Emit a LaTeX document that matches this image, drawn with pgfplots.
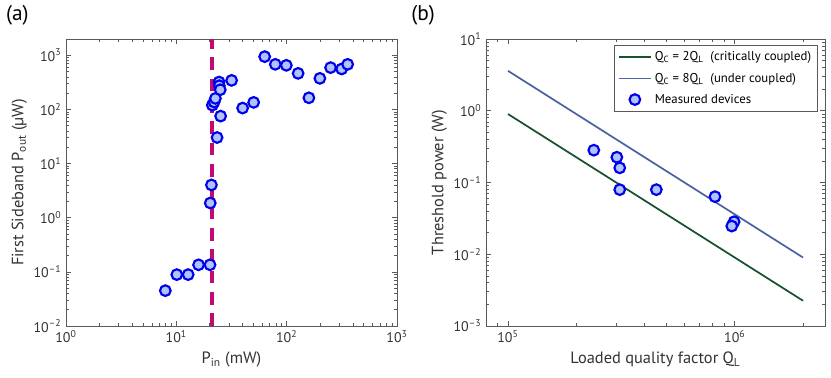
\documentclass[border=0pt]{standalone}
\usepackage{pgfplots}
\pgfplotsset{compat=1.18}
\usepackage{fontspec}
\setmainfont{PT Sans}
\definecolor{mk}{RGB}{0,0,235}
\definecolor{mkfill}{RGB}{175,195,255}
\definecolor{dashc}{RGB}{195,10,115}
\definecolor{gline}{RGB}{25,80,45}
\definecolor{bline}{RGB}{75,100,160}
\definecolor{axc}{RGB}{90,90,90}
\pgfplotsset{
  lineleg/.style={legend image code/.code={\draw[##1, line width=1.4pt] (0cm,0cm) -- (0.85cm,0cm);}},
  markleg/.style={legend image code/.code={\draw[mark options={draw=mk, fill=mkfill, line width=1.6pt}] plot[mark=*, mark size=4pt] coordinates {(0.42cm,0cm)};}},
}
\begin{document}
\begin{tikzpicture}[x=1pt,y=1pt]
\path[use as bounding box] (0,0) rectangle (623.25,283.5);
\pgfplotsset{
  every axis/.append style={
    scale only axis, xmode=log, ymode=log,
    tick align=inside, axis line style={axc, line width=0.6pt},
    every tick/.style={axc, line width=0.5pt},
    major tick length=4pt, minor tick length=2pt,
    font=\fontsize{10.5}{12}\selectfont,
    tick label style={font=\fontsize{10.5}{12}\selectfont, text=black!80},
    label style={font=\fontsize{12.3}{14}\selectfont, text=black!80},
  },
  meas/.style={only marks, mark=*, mark size=4pt,
    mark options={draw=mk, fill=mkfill, line width=1.6pt}},
}
\begin{axis}[at={(49.5pt,39pt)}, anchor=south west, width=248.25pt, height=215.25pt,
  xmin=1, xmax=1000, ymin=0.01, ymax=2000,
  xtick={1,10,100,1000},
  xticklabels={10\textsuperscript{0},10\textsuperscript{1},10\textsuperscript{2},10\textsuperscript{3}},
  minor xtick={2,3,4,5,6,7,8,9,20,30,40,50,60,70,80,90,200,300,400,500,600,700,800,900},
  ytick={0.01,0.1,1,10,100,1000},
  yticklabels={10\textsuperscript{\textendash2},10\textsuperscript{\textendash1},10\textsuperscript{0},10\textsuperscript{1},10\textsuperscript{2},10\textsuperscript{3}},
  minor ytick={0.02,0.03,0.04,0.05,0.06,0.07,0.08,0.09,0.2,0.3,0.4,0.5,0.6,0.7,0.8,0.9,2,3,4,5,6,7,8,9,20,30,40,50,60,70,80,90,200,300,400,500,600,700,800,900,2000},
  xlabel={P\textsubscript{in} (mW)},
  ylabel={First Sideband P\textsubscript{out} (µW)},
  ylabel style={yshift=-2pt},
]
\addplot[meas] coordinates {
(7.95,0.045) (10.1,0.089) (12.8,0.089) (15.9,0.135) (20.2,0.135)
(20.3,1.87) (20.8,4.03) (23.4,30.3) (25.2,75.3)
(21.2,120) (22.0,137) (22.6,160)
(24.4,321) (24.5,274) (25.0,231) (31.7,344)
(39.9,106) (50.2,135) (63.2,945) (78.9,681) (99.3,653)
(127,464) (159,164) (200,375) (250,592) (315,559) (357,681)
};
\addplot[dashc, line width=3pt, dash pattern=on 9.5pt off 6.5pt] coordinates {(20.9,0.01) (20.9,2000)};
\end{axis}

\begin{axis}[at={(364.5pt,39pt)}, anchor=south west, width=254.25pt, height=215.25pt,
  xmin=8e4, xmax=2.5e6, ymin=0.001, ymax=10,
  xtick={1e5,1e6},
  xticklabels={10\textsuperscript{5},10\textsuperscript{6}},
  minor xtick={8e4,9e4,2e5,3e5,4e5,5e5,6e5,7e5,8e5,9e5,2e6},
  ytick={0.001,0.01,0.1,1,10},
  yticklabels={10\textsuperscript{\textendash3},10\textsuperscript{\textendash2},10\textsuperscript{\textendash1},10\textsuperscript{0},10\textsuperscript{1}},
  minor ytick={0.002,0.003,0.004,0.005,0.006,0.007,0.008,0.009,0.02,0.03,0.04,0.05,0.06,0.07,0.08,0.09,0.2,0.3,0.4,0.5,0.6,0.7,0.8,0.9,2,3,4,5,6,7,8,9},
  xlabel={Loaded quality factor Q\textsubscript{L}},
  ylabel={Threshold power (W)},
  ylabel style={yshift=-2pt},
  legend style={at={(0.98,0.98)}, anchor=north east, draw=axc, line width=0.6pt,
    font=\fontsize{9.6}{11}\selectfont, row sep=3.5pt, inner sep=3pt},
  legend cell align=left,
]
\addplot[gline, line width=1.3pt, lineleg] coordinates {(1e5,0.9) (2e6,0.00225)};
\addlegendentry{Q\textsubscript{C} = 2Q\textsubscript{L}\ \ (critically coupled)}
\addplot[bline, line width=1.3pt, lineleg] coordinates {(1e5,3.6) (2e6,0.009)};
\addlegendentry{Q\textsubscript{C} = 8Q\textsubscript{L}\ \ (under coupled)}
\addplot[meas, markleg] coordinates {
(2.39e5,0.282) (3.02e5,0.225) (3.11e5,0.160) (3.11e5,0.0795) (4.51e5,0.0795)
(8.18e5,0.0635) (9.93e5,0.0284) (9.7e5,0.0247)
};
\addlegendentry{Measured devices}
\end{axis}

\node[anchor=west, font=\fontsize{16}{18}\selectfont] at (1,272) {(a)};
\node[anchor=west, font=\fontsize{16}{18}\selectfont] at (305,272) {(b)};
\end{tikzpicture}
\end{document}
